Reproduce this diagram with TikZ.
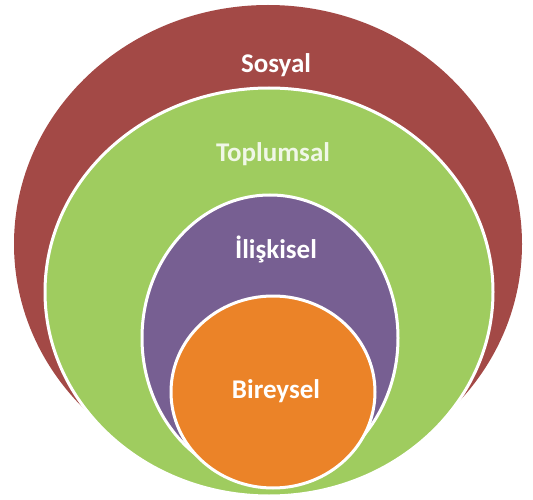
\documentclass[tikz,border=0pt]{standalone}
\usepackage{fontspec}
\setmainfont{Carlito}
\usetikzlibrary{shapes.geometric}

\definecolor{sosyalred}{HTML}{A34946}
\definecolor{toplumgreen}{HTML}{9FCC5F}
\definecolor{iliskipurple}{HTML}{775F92}
\definecolor{bireyorange}{HTML}{EB8328}

\begin{document}
\begin{tikzpicture}[
x = 1pt, y = -1pt, % pixel units, origin top left
ring/.style = {ellipse, inner sep = 0pt, draw = white, line width = 3pt},
label/.style = {anchor = base, text = white, font = \fontsize{27}{30}\selectfont\bfseries}
]
\useasboundingbox (0,0) rectangle (533,500);
\node[ring, fill = sosyalred, draw = none, minimum width = 508pt, minimum height = 478pt] (sosyal) at (268,244) {};
\node[ring, fill = toplumgreen, minimum width = 448pt, minimum height = 408pt] (toplum) at (269,292) {};
\node[ring, fill = iliskipurple, minimum width = 256pt, minimum height = 286pt] (iliski) at (270,338) {};
\node[ring, fill = bireyorange, minimum width = 204pt, minimum height = 192pt] (birey) at (273,392) {};
% labels
\node[label] (sosyaltxt) at (276,73) {Sosyal};
\node[label, text opacity = 0.85] (toplumtxt) at (273,162) {Toplumsal};
\node[label] (iliskitxt) at (276,258) {İlişkisel};
\node[label] (bireytxt) at (276,398) {Bireysel};
\end{tikzpicture}
\end{document}
